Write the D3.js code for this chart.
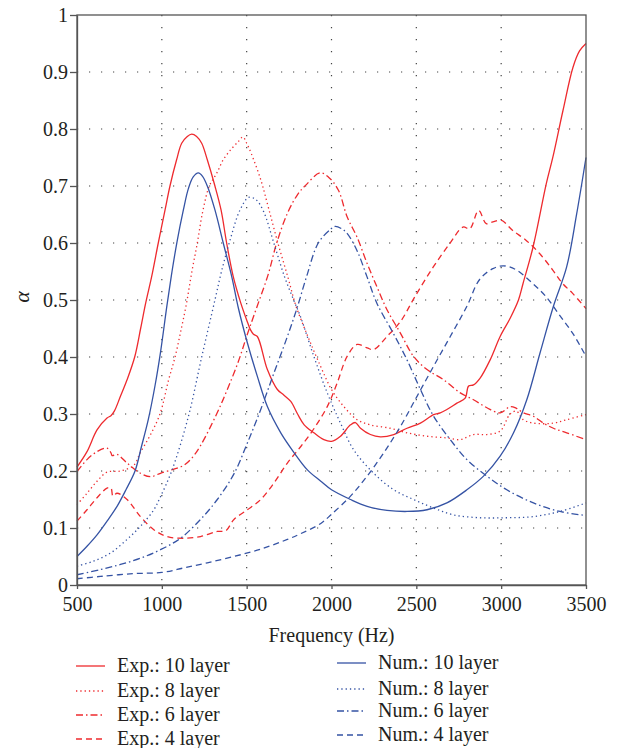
<!DOCTYPE html>
<meta charset="utf-8">
<script src="https://d3js.org/d3.v7.min.js"></script>
<style>
  body { margin: 0; background: #fff; }
  text { font-family: "Liberation Serif", "Times New Roman", Tinos, "Noto Serif", "DejaVu Serif", FreeSerif, serif; fill: #231f20; }
</style>
<body>
<script>

var serif = '"Liberation Serif", "Times New Roman", Tinos, "Noto Serif", "DejaVu Serif", FreeSerif, serif';

// tick labels
var xTicks = [500, 1000, 1500, 2000, 2500, 3000, 3500];
var yTicks = [0, 0.1, 0.2, 0.3, 0.4, 0.5, 0.6, 0.7, 0.8, 0.9, 1];

// [frequency (Hz), alpha]
var exp10 = [[500,0.207],[559,0.234],[618,0.272],[677,0.293],[700,0.297],[720,0.305],[756,0.331],[795,0.36],[840,0.40],[875,0.45],[905,0.495],[940,0.541],[979,0.6],[1019,0.658],[1048,0.70],[1087,0.746],[1117,0.775],[1150,0.787],[1176,0.791],[1205,0.787],[1235,0.775],[1268,0.746],[1313,0.70],[1349,0.658],[1382,0.6],[1421,0.541],[1465,0.495],[1500,0.465],[1522,0.448],[1540,0.44],[1563,0.436],[1622,0.378],[1681,0.343],[1720,0.333],[1760,0.322],[1800,0.30],[1839,0.281],[1896,0.267],[1955,0.255],[2000,0.252],[2053,0.261],[2112,0.281],[2141,0.285],[2171,0.275],[2229,0.264],[2288,0.26],[2367,0.264],[2445,0.275],[2524,0.284],[2602,0.299],[2641,0.302],[2680,0.308],[2739,0.319],[2788,0.328],[2808,0.349],[2837,0.351],[2876,0.363],[2935,0.395],[2994,0.436],[3053,0.468],[3102,0.50],[3129,0.529],[3188,0.593],[3266,0.704],[3305,0.751],[3364,0.832],[3423,0.908],[3462,0.937],[3500,0.95]];
var exp8 = [[500,0.141],[559,0.161],[618,0.182],[677,0.198],[756,0.2],[835,0.21],[871,0.231],[930,0.262],[989,0.3],[1040,0.36],[1078,0.4],[1115,0.45],[1146,0.495],[1176,0.548],[1209,0.6],[1241,0.655],[1280,0.7],[1323,0.722],[1362,0.746],[1410,0.765],[1451,0.778],[1478,0.786],[1500,0.775],[1527,0.757],[1583,0.711],[1630,0.66],[1684,0.6],[1743,0.54],[1790,0.49],[1835,0.455],[1876,0.425],[1935,0.384],[2000,0.343],[2073,0.313],[2151,0.29],[2229,0.281],[2347,0.275],[2445,0.267],[2563,0.261],[2680,0.258],[2759,0.255],[2837,0.264],[2916,0.264],[2994,0.27],[3053,0.3],[3090,0.305],[3130,0.29],[3190,0.284],[3308,0.284],[3386,0.29],[3500,0.299]];
var exp6 = [[500,0.199],[559,0.22],[618,0.234],[677,0.24],[700,0.232],[707,0.227],[736,0.229],[795,0.214],[874,0.196],[933,0.19],[992,0.196],[1068,0.203],[1130,0.21],[1175,0.222],[1225,0.243],[1323,0.3],[1386,0.343],[1451,0.392],[1504,0.44],[1563,0.49],[1627,0.545],[1677,0.6],[1740,0.652],[1800,0.685],[1850,0.702],[1932,0.723],[1981,0.716],[2040,0.693],[2092,0.646],[2151,0.61],[2210,0.564],[2268,0.523],[2327,0.483],[2406,0.442],[2484,0.401],[2563,0.378],[2661,0.36],[2759,0.337],[2837,0.325],[2916,0.311],[2994,0.302],[3053,0.313],[3090,0.31],[3131,0.302],[3190,0.296],[3249,0.284],[3308,0.275],[3386,0.267],[3500,0.255]];
var exp4 = [[500,0.112],[559,0.132],[618,0.153],[677,0.17],[700,0.17],[712,0.156],[736,0.161],[795,0.15],[874,0.12],[953,0.097],[1031,0.085],[1130,0.082],[1228,0.085],[1327,0.094],[1376,0.095],[1425,0.115],[1504,0.132],[1583,0.15],[1661,0.179],[1740,0.214],[1819,0.243],[1898,0.275],[1975,0.313],[2033,0.354],[2092,0.401],[2151,0.422],[2210,0.416],[2249,0.413],[2327,0.436],[2406,0.462],[2490,0.505],[2600,0.558],[2697,0.599],[2775,0.628],[2815,0.625],[2867,0.657],[2912,0.634],[2951,0.637],[3000,0.64],[3068,0.622],[3146,0.605],[3225,0.582],[3303,0.553],[3362,0.529],[3420,0.512],[3500,0.485]];

var num10 = [[500,0.05],[559,0.068],[618,0.088],[677,0.112],[736,0.138],[790,0.168],[842,0.2],[880,0.243],[920,0.29],[960,0.35],[993,0.41],[1030,0.49],[1060,0.55],[1090,0.603],[1127,0.658],[1156,0.695],[1185,0.716],[1215,0.723],[1240,0.717],[1268,0.70],[1313,0.658],[1362,0.6],[1412,0.541],[1451,0.486],[1504,0.425],[1563,0.366],[1622,0.313],[1701,0.267],[1780,0.232],[1858,0.202],[1937,0.182],[2000,0.167],[2112,0.15],[2210,0.138],[2327,0.131],[2445,0.129],[2563,0.132],[2680,0.144],[2798,0.167],[2896,0.191],[2994,0.226],[3073,0.267],[3151,0.325],[3229,0.407],[3308,0.489],[3386,0.558],[3445,0.651],[3500,0.75]];
var num8 = [[500,0.033],[598,0.042],[697,0.056],[795,0.08],[874,0.103],[953,0.132],[989,0.153],[1058,0.2],[1156,0.295],[1235,0.4],[1313,0.5],[1350,0.548],[1402,0.605],[1461,0.658],[1512,0.68],[1555,0.676],[1600,0.655],[1660,0.6],[1723,0.541],[1777,0.5],[1818,0.47],[1896,0.401],[1975,0.337],[2053,0.284],[2131,0.237],[2249,0.196],[2367,0.167],[2484,0.15],[2602,0.135],[2720,0.123],[2876,0.118],[3033,0.118],[3190,0.12],[3347,0.129],[3500,0.144]];
var num6 = [[500,0.018],[638,0.027],[756,0.036],[874,0.047],[992,0.062],[1110,0.082],[1228,0.115],[1327,0.15],[1425,0.195],[1504,0.249],[1583,0.308],[1661,0.372],[1740,0.436],[1797,0.486],[1853,0.541],[1922,0.6],[1994,0.624],[2020,0.629],[2060,0.625],[2092,0.617],[2150,0.587],[2209,0.541],[2268,0.494],[2367,0.44],[2445,0.395],[2524,0.343],[2602,0.296],[2700,0.255],[2798,0.22],[2916,0.191],[3033,0.167],[3190,0.144],[3347,0.129],[3500,0.122]];
var num4 = [[500,0.011],[638,0.015],[835,0.02],[1000,0.022],[1130,0.03],[1268,0.039],[1425,0.05],[1583,0.063],[1740,0.08],[1818,0.09],[1937,0.108],[2000,0.124],[2112,0.156],[2210,0.191],[2308,0.232],[2406,0.278],[2504,0.331],[2602,0.384],[2700,0.436],[2798,0.489],[2873,0.536],[2951,0.555],[3014,0.56],[3088,0.553],[3186,0.529],[3264,0.506],[3340,0.475],[3425,0.44],[3500,0.401]];

var expNames = ["Exp.: 10 layer", "Exp.: 8 layer", "Exp.: 6 layer", "Exp.: 4 layer"];
var numNames = ["Num.: 10 layer", "Num.: 8 layer", "Num.: 6 layer", "Num.: 4 layer"];

var red = "#ee2a2e", blue = "#3553a4";
var dashes = [null, "1.3,3", "7,3,1.5,3", "6,4"];

var margin = {left: 77, right: 35, top: 15, bottom: 163};
var width = 621 - margin.left - margin.right;
var height = 748 - margin.top - margin.bottom;

var svg = d3.select("body").append("svg")
  .attr("width", 621)
  .attr("height", 748);

var g = svg.append("g")
  .attr("transform", `translate(${margin.left},${margin.top})`);

var x = d3.scaleLinear().domain([500, 3500]).range([0, width]);
var y = d3.scaleLinear().domain([0, 1]).range([height, 0]);

// dotted grid
g.selectAll(".vgrid").data(xTicks.slice(1, -1)).enter().append("line")
  .attr("x1", d => x(d)).attr("x2", d => x(d))
  .attr("y1", 0).attr("y2", height)
  .attr("stroke", "#444").attr("stroke-width", 1.2)
  .attr("stroke-dasharray", "1.2,10.8");
g.selectAll(".hgrid").data(yTicks.slice(1, -1)).enter().append("line")
  .attr("y1", d => y(d)).attr("y2", d => y(d))
  .attr("x1", 0).attr("x2", width)
  .attr("stroke", "#444").attr("stroke-width", 1.2)
  .attr("stroke-dasharray", "1.2,10.8");

var line = d3.line()
  .x(d => x(d[0]))
  .y(d => y(d[1]))
  .curve(d3.curveCatmullRom.alpha(0.5));

var series = [
  {data: exp10, color: red, dash: dashes[0]},
  {data: exp8, color: red, dash: dashes[1]},
  {data: exp6, color: red, dash: dashes[2]},
  {data: exp4, color: red, dash: dashes[3]},
  {data: num10, color: blue, dash: dashes[0]},
  {data: num8, color: blue, dash: dashes[1]},
  {data: num6, color: blue, dash: dashes[2]},
  {data: num4, color: blue, dash: dashes[3]}
];

g.selectAll(".curve").data(series).enter().append("path")
  .attr("class", "curve")
  .attr("d", d => line(d.data))
  .attr("fill", "none")
  .attr("stroke", d => d.color)
  .attr("stroke-width", 1.3)
  .attr("stroke-dasharray", d => d.dash);

// frame
g.append("rect")
  .attr("width", width).attr("height", height)
  .attr("fill", "none").attr("stroke", "#555").attr("stroke-width", 1.3);

var yAxis = g.append("g").call(d3.axisLeft(y).tickValues(yTicks).tickSize(7).tickSizeOuter(0).tickPadding(2).tickFormat(d3.format("")));
var xAxis = g.append("g").attr("transform", `translate(0,${height})`)
  .call(d3.axisBottom(x).tickValues(xTicks).tickSize(4).tickSizeOuter(0).tickPadding(8).tickFormat(d3.format("d")));

[xAxis, yAxis].forEach(a => {
  a.attr("font-family", null);
  a.select(".domain").attr("stroke", "#555").attr("stroke-width", 1.3);
  a.selectAll(".tick line").attr("stroke", "#555").attr("stroke-width", 1.3);
  a.selectAll("text").style("font-family", serif).style("font-size", "20px").attr("fill", "#231f20");
});

svg.append("text")
  .attr("x", margin.left + width / 2).attr("y", 642)
  .attr("text-anchor", "middle").style("font-size", "20px")
  .text("Frequency (Hz)");

svg.append("text")
  .attr("transform", "translate(29,297) rotate(-90)")
  .attr("text-anchor", "middle").style("font-size", "22px").style("font-style", "italic")
  .text("α");

// legend
var expRows = [666, 691, 715, 739];
var numRows = [663, 689, 711, 735];

function legend(names, rows, color, lx, tx) {
  names.forEach((n, i) => {
    svg.append("line")
      .attr("x1", lx).attr("x2", lx + 29)
      .attr("y1", rows[i]).attr("y2", rows[i])
      .attr("stroke", color).attr("stroke-width", 1.3)
      .attr("stroke-dasharray", dashes[i]);
    svg.append("text")
      .attr("x", tx).attr("y", rows[i] + 6)
      .style("font-size", "20px")
      .text(n);
  });
}
legend(expNames, expRows, red, 76, 117);
legend(numNames, numRows, blue, 337, 378);

</script>
</body>
